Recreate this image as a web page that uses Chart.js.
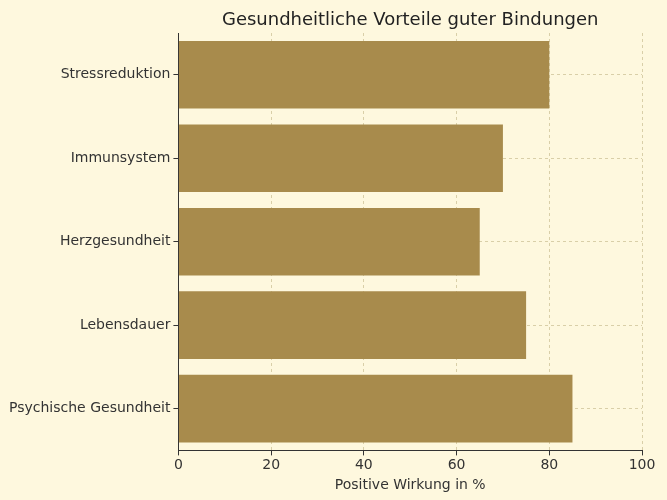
<!DOCTYPE html>
<html><head><meta charset="utf-8">
<script src="https://cdn.jsdelivr.net/npm/chart.js@4/dist/chart.umd.min.js"></script>
<style>html,body{margin:0;padding:0;background:#fef8de;}#w{width:667px;height:500px;}</style>
</head><body><div id="w"><canvas id="c" width="667" height="500"></canvas></div>
<script>
const categories = ["Stressreduktion","Immunsystem","Herzgesundheit","Lebensdauer","Psychische Gesundheit"];
const values = [80,70,65,75,85];
const xTicks = [0,20,40,60,80,100];
const titleText = 'Gesundheitliche Vorteile guter Bindungen';
Chart.defaults.font.family = "DejaVu Sans";
Chart.defaults.color = "#2b2b2b";
const titlePlugin = { id: 'tp', afterDraw(chart) {
  const ctx = chart.ctx, a = chart.chartArea;
  ctx.save(); ctx.font = '18px "DejaVu Sans"'; ctx.fillStyle = '#222';
  ctx.textAlign = 'center'; ctx.textBaseline = 'middle';
  ctx.fillText(titleText, (a.left + a.right) / 2, 20); ctx.restore(); } };
new Chart(document.getElementById('c'), {
  type: 'bar',
  data: { labels: categories, datasets: [{ data: values, backgroundColor: '#a88b4c', barPercentage: 0.81, categoryPercentage: 1 }] },
  options: {
    indexAxis: 'y', responsive: false, animation: false,
    layout: { padding: { left: 6, right: 25, top: 33, bottom: 6 } },
    plugins: { legend: { display: false }, tooltip: { enabled: false } },
    scales: {
      x: { min: 0, max: 100, afterBuildTicks: s => { s.ticks = xTicks.map(v => ({ value: v })); },
        grid: { color: '#d9cfa8', tickColor: '#333', tickLength: 5 },
        border: { color: '#333', dash: [3,3] },
        ticks: { font: { size: 14 }, color: '#333', padding: 2 },
        title: { display: true, text: 'Positive Wirkung in %', font: { size: 14 }, color: '#333', padding: { top: 1, bottom: 0 } } },
      y: { grid: { color: '#d9cfa8', tickColor: '#333', tickLength: 5, offset: false },
        border: { color: '#333', dash: [3,3] },
        ticks: { font: { size: 14 }, color: '#333', padding: 3 } }
    }
  },
  plugins: [titlePlugin]
});
</script></body></html>
